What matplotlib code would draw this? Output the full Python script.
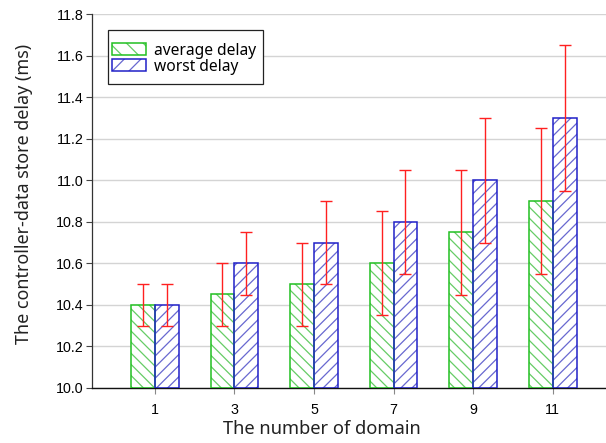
import matplotlib
matplotlib.use("Agg")
import matplotlib.pyplot as plt
import numpy as np
from matplotlib.patches import Patch, Rectangle

domains = ["1", "3", "5", "7", "9", "11"]
avg_delay = [10.40, 10.45, 10.50, 10.60, 10.75, 10.90]
avg_err = [0.10, 0.15, 0.20, 0.25, 0.30, 0.35]
worst_delay = [10.40, 10.60, 10.70, 10.80, 11.00, 11.30]
worst_err = [0.10, 0.15, 0.20, 0.25, 0.30, 0.35]

plt.rcParams["hatch.linewidth"] = 0.9

W, H = 606, 443
fig = plt.figure(figsize=(W / 100, H / 100), dpi=100)
ax = fig.add_axes([92 / W, 1 - 388 / H, 1 - 92 / W, (388 - 14) / H])

x = np.arange(len(domains))
w = 0.3
green = "#22c022"
blue = "#2020c8"
green_h = "#66cc66"
blue_h = "#6868d0"
green_hatch = "\\\\\\"
blue_hatch = "///"

# hatched fills
ax.bar(x - w / 2, np.array(avg_delay) - 10, w, bottom=10, color="white",
       edgecolor=green_h, hatch=green_hatch, linewidth=0, zorder=2)
ax.bar(x + w / 2, np.array(worst_delay) - 10, w, bottom=10, color="white",
       edgecolor=blue_h, hatch=blue_hatch, linewidth=0, zorder=2)
# outlines
ax.bar(x - w / 2, np.array(avg_delay) - 10, w, bottom=10, fill=False,
       edgecolor=green, linewidth=1.1, zorder=3)
ax.bar(x + w / 2, np.array(worst_delay) - 10, w, bottom=10, fill=False,
       edgecolor=blue, linewidth=1.1, zorder=3)

ax.errorbar(x - w / 2, avg_delay, yerr=avg_err, fmt="none", ecolor="#ff2020",
            elinewidth=1.0, capsize=4.5, capthick=1.0, zorder=4)
ax.errorbar(x + w / 2, worst_delay, yerr=worst_err, fmt="none", ecolor="#ff2020",
            elinewidth=1.0, capsize=4.5, capthick=1.0, zorder=4)

yt = np.arange(10.0, 11.81, 0.2)
ax.set_ylim(10.0, 11.8)
ax.set_xlim(-0.79, 5.67)
ax.set_yticks(yt)
ax.set_yticklabels([f"{v:.1f}" for v in yt], fontfamily="Liberation Sans", fontsize=10.3)
ax.set_xticks(x)
ax.set_xticklabels(domains, fontfamily="Liberation Sans", fontsize=10.3)
ax.tick_params(axis="y", length=4, width=0.8, color="#444444", pad=2)
ax.tick_params(axis="x", length=4, width=0.8, color="#888888", pad=7)

ax.grid(axis="y", color="#d4d4d4", linewidth=1.0, zorder=0)
ax.set_axisbelow(True)
for s in ["top", "right"]:
    ax.spines[s].set_visible(False)
ax.spines["left"].set_color("#333333")
ax.spines["bottom"].set_color("#111111")
ax.spines["left"].set_linewidth(0.9)
ax.spines["bottom"].set_linewidth(1.0)

ax.set_xlabel("The number of domain", fontfamily="Noto Sans", fontsize=13.2,
              color="#222222", va="center")
ax.xaxis.set_label_coords((322 - 92) / (W - 92), -(429 - 388) / (388 - 14))
ax.set_ylabel("The controller-data store delay (ms)", fontfamily="Noto Sans",
              fontsize=12.9, color="#222222", va="center")
ax.yaxis.set_label_coords(-(92 - 24) / (W - 92), (388 - 194) / (388 - 14))

# legend frame
frame = Rectangle((108 / W, 1 - 84 / H), (263 - 108) / W, (84 - 30) / H,
                  transform=fig.transFigure, facecolor="white",
                  edgecolor="#222222", linewidth=0.9, zorder=5)
fig.add_artist(frame)

handles = [(Patch(facecolor="white", edgecolor=green_h, hatch="\\\\", linewidth=0),
            Patch(fill=False, edgecolor=green, linewidth=1.1)),
           (Patch(facecolor="white", edgecolor=blue_h, hatch="//", linewidth=0),
            Patch(fill=False, edgecolor=blue, linewidth=1.1))]
leg = fig.legend(handles, ["average delay", "worst delay"],
                 loc="upper left", bbox_to_anchor=(110 / W, 1 - 41 / H),
                 bbox_transform=fig.transFigure,
                 prop={"family": "Noto Sans", "size": 11.2}, frameon=False,
                 handlelength=2.2, handleheight=0.75, borderpad=0.1,
                 borderaxespad=0, labelspacing=0.0, handletextpad=0.5)
leg.set_zorder(6)

fig.savefig("out.png", dpi=100)
